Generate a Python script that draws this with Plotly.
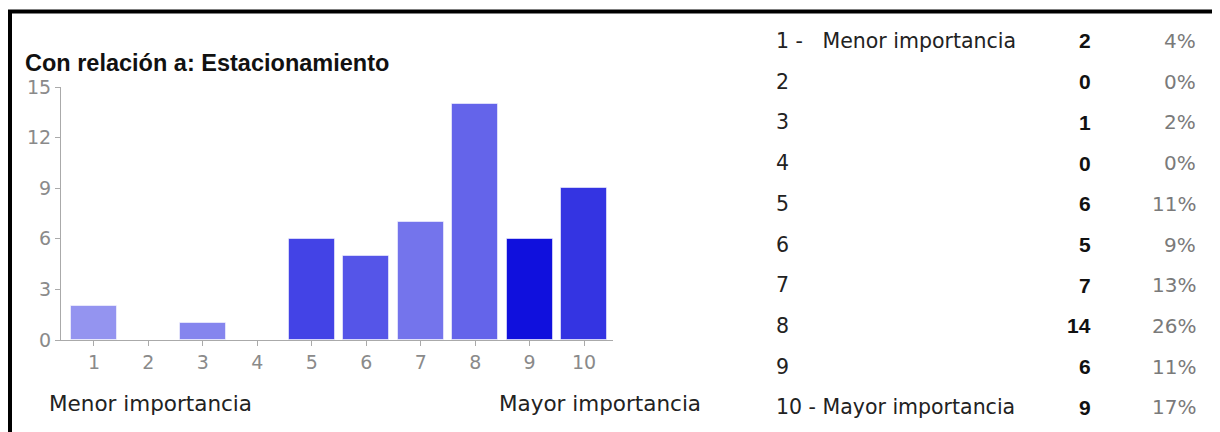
import plotly.graph_objects as go

# ---- data ----
categories = [1, 2, 3, 4, 5, 6, 7, 8, 9, 10]
counts = [2, 0, 1, 0, 6, 5, 7, 14, 6, 9]
percents = ["4%", "0%", "2%", "0%", "11%", "9%", "13%", "26%", "11%", "17%"]
row_labels = ["1 -\u00a0\u00a0\u00a0Menor importancia", "2", "3", "4", "5", "6", "7", "8", "9",
              "10 - Mayor importancia"]
bar_colors = ["#9494f0", "#9494f0", "#8585ee", "#8585ee", "#4343e6",
              "#5555e8", "#7474ec", "#6464ea", "#1010dd", "#3434e2"]
y_ticks = [0, 3, 6, 9, 12, 15]
title_text = "Con relación a: Estacionamiento"
low_label = "Menor importancia"
high_label = "Mayor importancia"

# ---- geometry (target screen pixels; page body adds an 8px offset) ----
OFF = 8
W, H = 1220 - OFF, 432 - OFF
L, R, T, B = 61 - OFF, 613 - OFF, 87 - OFF, 340 - OFF


def px(x):
    return (x - OFF - L) / (R - L)


def py(y):
    return (B - (y - OFF)) / (B - T)


fig = go.Figure()
fig.add_trace(go.Bar(
    x=categories, y=counts, width=0.84,
    marker=dict(color=bar_colors,
                line=dict(color="rgba(255,255,255,0.55)",
                          width=[1 if v > 0 else 0 for v in counts])),
    hoverinfo="x+y",
))

axis_common = dict(showgrid=False, zeroline=False, showline=True, linecolor="#aaaaaa",
                   linewidth=1, ticks="outside", ticklen=5, tickcolor="#aaaaaa",
                   tickfont=dict(family="DejaVu Sans", size=19, color="#8a8a8a"))

fig.update_layout(
    width=W, height=H,
    margin=dict(l=L, r=W - R, t=T, b=H - B, pad=0),
    paper_bgcolor="white", plot_bgcolor="white",
    showlegend=False,
    bargap=0,
    xaxis=dict(range=[0.395, 10.53], tickvals=categories, **axis_common),
    yaxis=dict(range=[0, 15], tickvals=y_ticks, **axis_common),
)

# border (top and left)
fig.add_shape(type="line", xref="paper", yref="paper", x0=px(8), x1=px(1230),
              y0=py(11.5), y1=py(11.5), line=dict(color="black", width=4))
fig.add_shape(type="line", xref="paper", yref="paper", x0=px(10), x1=px(10),
              y0=py(10), y1=py(440), line=dict(color="black", width=4))

ann = []
ann.append(dict(text="<b>" + title_text + "</b>", x=px(23), y=py(63), xanchor="left",
                yanchor="middle",
                font=dict(family="Liberation Sans", size=23.5, color="#111111")))
ann.append(dict(text=low_label, x=px(47), y=py(403), xanchor="left", yanchor="middle",
                font=dict(family="DejaVu Sans", size=21.5, color="#222222")))
ann.append(dict(text=high_label, x=px(703), y=py(403), xanchor="right", yanchor="middle",
                font=dict(family="DejaVu Sans", size=21.5, color="#222222")))

row_y0, row_step = 41, 40.7
for i, (lab, c, p) in enumerate(zip(row_labels, counts, percents)):
    yy = py(row_y0 + i * row_step)
    ann.append(dict(text=lab, x=px(774), y=yy, xanchor="left", yanchor="middle",
                    font=dict(family="DejaVu Sans", size=20.5, color="#222222")))
    ann.append(dict(text="<b>%d</b>" % c, x=px(1093), y=yy, xanchor="right", yanchor="middle",
                    font=dict(family="Liberation Sans", size=21, color="#111111")))
    ann.append(dict(text=p, x=px(1198), y=yy, xanchor="right", yanchor="middle",
                    font=dict(family="DejaVu Sans", size=20, color="#7a7a7a")))

for a in ann:
    a.update(xref="paper", yref="paper", showarrow=False)
fig.update_layout(annotations=ann)

fig.write_html("out.html")
